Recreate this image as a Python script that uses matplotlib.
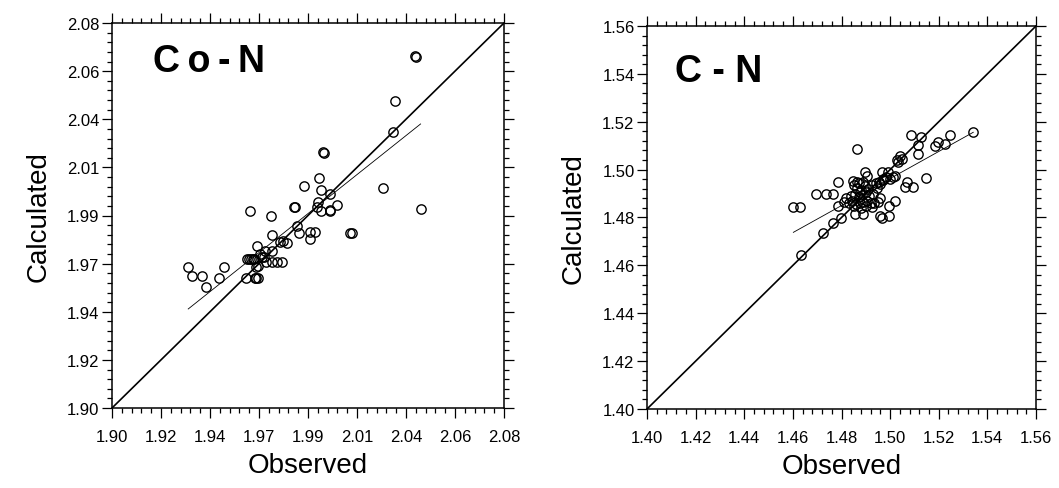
import numpy as np
import matplotlib
matplotlib.use("Agg")
import matplotlib.pyplot as plt
from matplotlib.ticker import AutoMinorLocator

plt.rcParams['font.family'] = ['Liberation Sans', 'DejaVu Sans']

# ---------------- Co-N data (Observed, Calculated) ----------------
con_obs = [2.0392, 2.0396, 2.0301, 2.0292, 1.9971, 1.9973, 1.9952, 1.9882, 1.9961, 2.0001,
           2.0243, 2.0420, 1.9634, 1.9731, 1.9838, 1.9842, 1.9947, 1.9943, 1.9961, 2.0001,
           2.0003, 2.0033, 1.9736, 1.9664, 1.9849, 1.9860, 1.9909, 1.9934, 1.9909, 2.0093,
           2.0102, 1.9787, 1.9802, 1.9771, 1.9702, 1.9733, 1.9618, 1.9628, 1.9640, 1.9649,
           1.9651, 1.9687, 1.9680, 1.9706, 1.9733, 1.9758, 1.9780, 1.9672, 1.9614, 1.9657,
           1.9663, 1.9671, 1.9347, 1.9369, 1.9412, 1.9432, 1.9493, 1.9514, 1.9697, 1.9660]
con_calc = [2.0645, 2.0643, 2.0437, 2.0289, 2.0198, 2.0194, 2.0077, 2.0038, 2.0019, 2.0000,
            2.0029, 1.9929, 1.9921, 1.9899, 1.9938, 1.9938, 1.9962, 1.9938, 1.9920, 1.9925,
            1.9921, 1.9949, 1.9809, 1.9757, 1.9850, 1.9818, 1.9821, 1.9821, 1.9790, 1.9818,
            1.9818, 1.9782, 1.9771, 1.9775, 1.9736, 1.9736, 1.9697, 1.9697, 1.9697, 1.9697,
            1.9697, 1.9705, 1.9720, 1.9681, 1.9681, 1.9681, 1.9681, 1.9665, 1.9608, 1.9608,
            1.9608, 1.9608, 1.9658, 1.9619, 1.9619, 1.9564, 1.9608, 1.9658, 1.9705, 1.9660]
con_fit_x = [1.9350, 2.0417]
con_fit_y = [1.9463, 2.0328]
con_range = [1.90, 2.08]
con_ticklabels = ["1.90", "1.92", "1.94", "1.97", "1.99", "2.01", "2.04", "2.06", "2.08"]

# ---------------- C-N data (Observed, Calculated) ----------------
cn_obs = [1.5342, 1.5246, 1.5198, 1.5185, 1.5226, 1.5085, 1.5126, 1.5116, 1.5116, 1.4865,
          1.5041, 1.5048, 1.5034, 1.5027, 1.5148, 1.5068, 1.5061, 1.5095, 1.4897, 1.4965,
          1.4993, 1.5012, 1.5020, 1.4998, 1.4787, 1.4849, 1.4863, 1.4904, 1.4695, 1.4736,
          1.4764, 1.4602, 1.4629, 1.4787, 1.4856, 1.4887, 1.4965, 1.4997, 1.4997, 1.5020,
          1.4798, 1.4766, 1.4725, 1.4633,
          1.4810, 1.4830, 1.4845, 1.4860, 1.4875, 1.4890, 1.4905, 1.4920, 1.4935, 1.4950,
          1.4820, 1.4840, 1.4855, 1.4870, 1.4885, 1.4900, 1.4880, 1.4865, 1.4895, 1.4910,
          1.4925, 1.4940, 1.4955, 1.4970, 1.4945, 1.4930, 1.4915, 1.4960, 1.4850, 1.4870,
          1.4888, 1.4875, 1.4960, 1.4970, 1.4985, 1.4900, 1.4925, 1.4880, 1.4850, 1.4958]
cn_calc = [1.5156, 1.5145, 1.5117, 1.5100, 1.5107, 1.5145, 1.5138, 1.5103, 1.5065, 1.5086,
           1.5058, 1.5044, 1.5031, 1.5040, 1.4965, 1.4950, 1.4929, 1.4926, 1.4990, 1.4990,
           1.4990, 1.4969, 1.4975, 1.4962, 1.4950, 1.4954, 1.4947, 1.4975, 1.4898, 1.4898,
           1.4898, 1.4845, 1.4845, 1.4847, 1.4815, 1.4815, 1.4797, 1.4808, 1.4847, 1.4870,
           1.4797, 1.4777, 1.4735, 1.4645,
           1.4865, 1.4860, 1.4870, 1.4858, 1.4862, 1.4866, 1.4870, 1.4862, 1.4860, 1.4865,
           1.4880, 1.4890, 1.4900, 1.4885, 1.4895, 1.4905, 1.4915, 1.4925, 1.4930, 1.4920,
           1.4935, 1.4945, 1.4950, 1.4955, 1.4925, 1.4900, 1.4890, 1.4940, 1.4935, 1.4945,
           1.4950, 1.4905, 1.4880, 1.4960, 1.4970, 1.4850, 1.4845, 1.4840, 1.4850, 1.4808]
cn_fit_x = [1.4602, 1.5342]
cn_fit_y = [1.4738, 1.5156]
cn_range = [1.40, 1.56]
cn_ticklabels = ["1.40", "1.42", "1.44", "1.46", "1.48", "1.50", "1.52", "1.54", "1.56"]

fig = plt.figure(figsize=(10.59, 4.89), dpi=100)
ax1 = fig.add_axes([112/1059, 1-409/489, 392/1059, 385/489])
ax2 = fig.add_axes([647/1059, 1-410/489, 389/1059, 383/489])


def draw(ax, obs, calc, fx, fy, rng, labels, title, tx, ty):
    ax.plot(rng, rng, color='black', lw=1.2, zorder=2)
    ax.plot(fx, fy, color='black', lw=0.6, zorder=2)
    ax.plot(obs, calc, linestyle='none', marker='o', markersize=6.7,
            markerfacecolor='none', markeredgecolor='black', markeredgewidth=1.0, zorder=3)
    ax.set_xlim(rng)
    ax.set_ylim(rng)
    ticks = np.linspace(rng[0], rng[1], len(labels))
    ax.set_xticks(ticks)
    ax.set_yticks(ticks)
    ax.set_xticklabels(labels)
    ax.set_yticklabels(labels)
    ax.xaxis.set_minor_locator(AutoMinorLocator(5))
    ax.yaxis.set_minor_locator(AutoMinorLocator(5))
    ax.tick_params(which='both', direction='out', top=True, right=True,
                   labelsize=12, width=0.9, color='black')
    ax.tick_params(which='major', length=7)
    ax.tick_params(which='minor', length=3.5)
    ax.tick_params(axis='x', which='major', pad=8)
    ax.tick_params(axis='y', which='major', pad=2)
    for s in ax.spines.values():
        s.set_linewidth(1.1)
    ax.set_xlabel("Observed", fontsize=20, labelpad=6)
    ax.set_ylabel("Calculated", fontsize=20, labelpad=11)
    ax.text(tx, ty, title, transform=ax.transAxes, fontsize=27, fontweight='bold',
            ha='left', va='baseline')


draw(ax1, con_obs, con_calc, con_fit_x, con_fit_y, con_range, con_ticklabels,
     "C\u2009o\u2009-\u2009N", 0.105, 0.876)
draw(ax2, cn_obs, cn_calc, cn_fit_x, cn_fit_y, cn_range, cn_ticklabels,
     "C - N", 0.072, 0.857)

fig.savefig("out.png", dpi=100)
